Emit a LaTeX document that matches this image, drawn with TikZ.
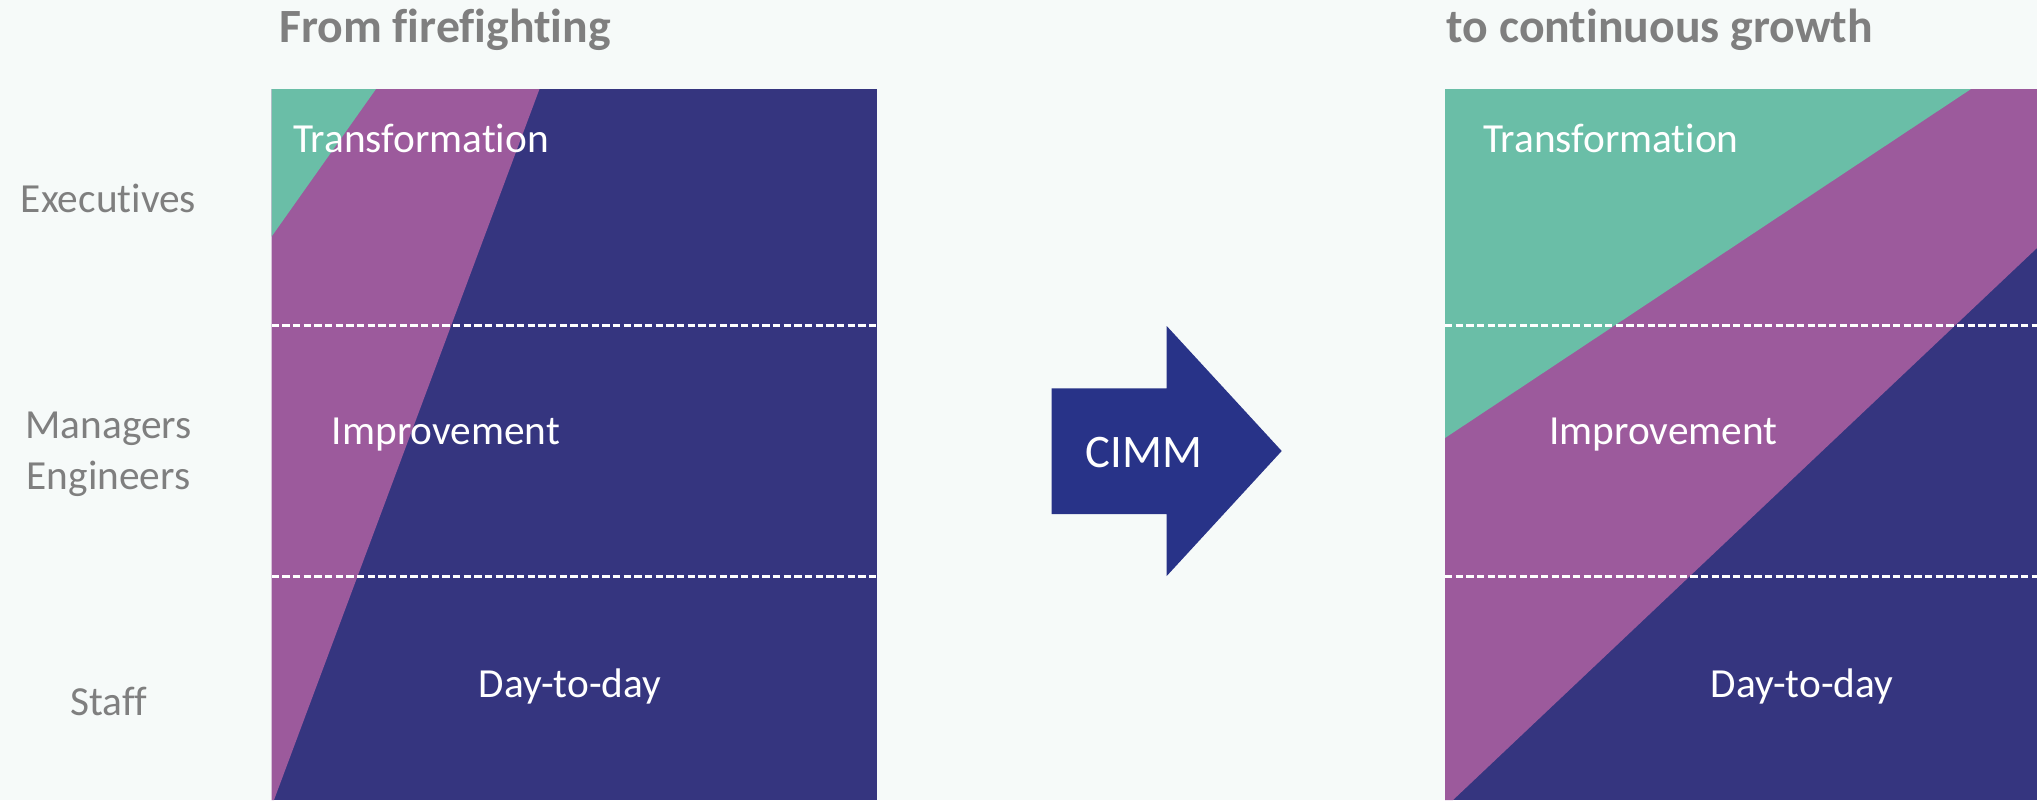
\documentclass[tikz,border=0pt]{standalone}
\usepackage{fontspec}
\setmainfont{Carlito}[Ligatures={NoCommon,NoRare,NoDiscretionary}]
\definecolor{bgc}{HTML}{F6FAF9}
\definecolor{navyc}{HTML}{35357F}
\definecolor{purplec}{HTML}{9C5A9C}
\definecolor{greenc}{HTML}{6ABEA7}
\definecolor{arrowc}{HTML}{283388}
\definecolor{grayc}{HTML}{7F7F7F}
\begin{document}
\begin{tikzpicture}[x=0.75pt,y=-0.75pt,
  titletext/.style={inner sep=0pt,anchor=base west,text=grayc,font=\fontsize{35.8}{40}\selectfont\bfseries},
  roletext/.style={inner sep=0pt,anchor=base,text=grayc,font=\fontsize{31}{36}\selectfont},
  bandtext/.style={inner sep=0pt,text=white,font=\fontsize{31}{36}\selectfont},
  divider/.style={white,line width=2pt,dash pattern=on 5.5pt off 2.5pt}]
\fill[bgc] (0,0) rectangle (2037,800);
\useasboundingbox (0,0) rectangle (2037,800);
% left panel
\begin{scope}
\clip (271.5,89) rectangle (877,800);
\fill[navyc] (271.5,89) rectangle (877,800);
\fill[purplec] (271.5,89) -- (539.5,89) -- (274,800) -- (271.5,800) -- cycle;
\fill[greenc] (271.5,89) -- (376,89) -- (271.5,236.7) -- cycle;
\end{scope}
% right panel
\begin{scope}
\clip (1445,89) rectangle (2037,800);
\fill[navyc] (1445,89) rectangle (2037,800);
\fill[purplec] (1445,89) -- (2037,89) -- (2037,248) -- (1453,800) -- (1445,800) -- cycle;
\fill[greenc] (1445,89) -- (1971,89) -- (1445,438) -- cycle;
\end{scope}
% dividers
\coordinate (l1a) at (271.5,325.3); \coordinate (l1b) at (877,325.3);
\coordinate (l2a) at (271.5,576.7); \coordinate (l2b) at (877,576.7);
\coordinate (r1a) at (1445,325.3); \coordinate (r1b) at (2037,325.3);
\coordinate (r2a) at (1445,576.7); \coordinate (r2b) at (2037,576.7);
\draw[divider] (l1a) -- (l1b);
\draw[divider] (l2a) -- (l2b);
\draw[divider] (r1a) -- (r1b);
\draw[divider] (r2a) -- (r2b);
% arrow
\fill[arrowc] (1051.7,388.3) -- (1166.7,388.3) -- (1166.7,326) -- (1281.7,451) -- (1166.7,576) -- (1166.7,514) -- (1051.7,514) -- cycle;
\node[inner sep=0pt,anchor=base,text=white,font=\fontsize{35}{40}\selectfont] (cimm) at (1144,467.7) {CIMM};
% titles
\node[titletext] (tfrom) at (279,42) {From firefighting};
\node[titletext] (tto) at (1446.4,42) {to continuous growth};
% roles
\node[roletext] (exec) at (108.5,212) {Executives};
\node[roletext] (mgr) at (108.5,438) {Managers};
\node[roletext] (eng) at (108.5,489) {Engineers};
\node[roletext] (staff) at (108.5,715) {Staff};
% band labels
\node[bandtext,anchor=base west] (ltr) at (293,152) {Transformation};
\node[bandtext,anchor=base west] (limp) at (331.6,444) {Improvement};
\node[bandtext,anchor=base] (lday) at (570,697.7) {Day-to-day};
\node[bandtext,anchor=base west] (rtr) at (1482.8,152) {Transformation};
\node[bandtext,anchor=base west] (rimp) at (1549,444) {Improvement};
\node[bandtext,anchor=base] (rday) at (1802,697.7) {Day-to-day};
\end{tikzpicture}
\end{document}
